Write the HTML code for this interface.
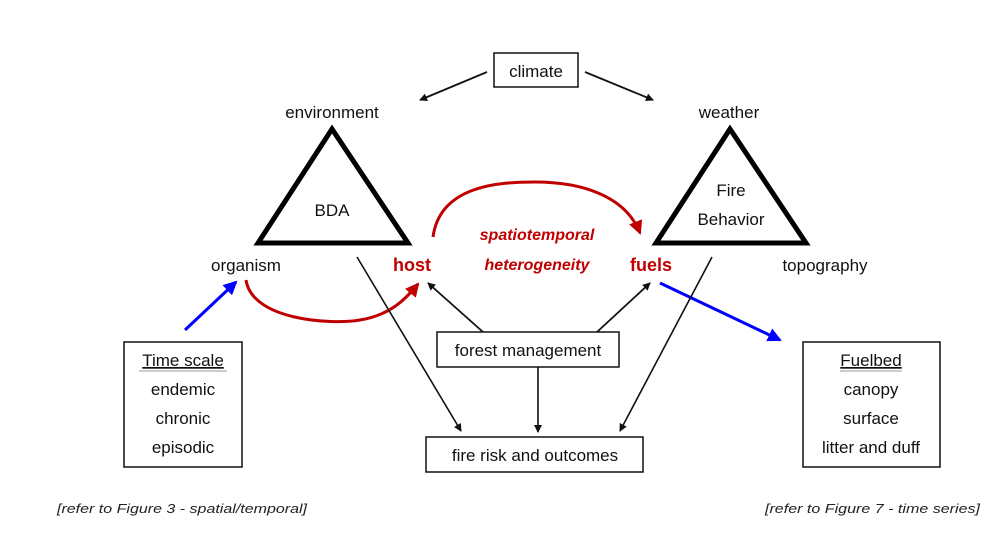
<!DOCTYPE html>
<html><head><meta charset="utf-8"><style>
html,body{margin:0;padding:0;background:#fff;}
svg{display:block;}
.a{font-family:"Liberation Sans",sans-serif;font-size:17px;fill:#111;}
.c{font-family:"Liberation Sans Narrow","Liberation Sans",sans-serif;font-size:17px;fill:#111;}
</style></head><body>
<svg width="1000" height="550" viewBox="0 0 1000 550" xmlns="http://www.w3.org/2000/svg">
<defs>
<marker id="k" markerWidth="8" markerHeight="8" refX="7" refY="4" orient="auto" markerUnits="userSpaceOnUse"><path d="M0,0 L8,4 L0,8 Z" fill="#111"/></marker>
<marker id="r" markerWidth="14" markerHeight="14" refX="12" refY="7" orient="auto" markerUnits="userSpaceOnUse"><path d="M0,0 L14,7 L0,14 Z" fill="#c00000"/></marker>
<marker id="b" markerWidth="14" markerHeight="14" refX="12" refY="7" orient="auto" markerUnits="userSpaceOnUse"><path d="M0,0 L14,7 L0,14 Z" fill="#0000ff"/></marker>
</defs>
<rect x="494" y="53" width="84" height="34" fill="#fff" stroke="#111" stroke-width="1.5"/>
<text x="536" y="77" class="c" text-anchor="middle">climate</text>
<line x1="487" y1="72" x2="420" y2="100" stroke="#111" stroke-width="1.8" marker-end="url(#k)"/>
<line x1="585" y1="72" x2="653" y2="100" stroke="#111" stroke-width="1.8" marker-end="url(#k)"/>
<text x="332" y="118" class="a" text-anchor="middle">environment</text>
<text x="729" y="118" class="a" text-anchor="middle">weather</text>
<polygon points="332,129 258,243 408,243" fill="none" stroke="#000" stroke-width="5"/>
<text x="332" y="216" class="a" font-size="18" text-anchor="middle">BDA</text>
<polygon points="730,129 656,243 806,243" fill="none" stroke="#000" stroke-width="5"/>
<text x="731" y="196" class="a" font-size="18" text-anchor="middle">Fire</text>
<text x="731" y="225" class="a" font-size="18" text-anchor="middle">Behavior</text>
<text x="246" y="271" class="a" text-anchor="middle">organism</text>
<text x="412" y="271" font-family="Liberation Sans,sans-serif" font-size="18" font-weight="bold" fill="#c00000" text-anchor="middle">host</text>
<text x="651" y="271" font-family="Liberation Sans,sans-serif" font-size="18" font-weight="bold" fill="#c00000" text-anchor="middle">fuels</text>
<text x="825" y="271" class="a" text-anchor="middle">topography</text>
<text x="537" y="240" font-family="Liberation Sans,sans-serif" font-size="16" font-weight="bold" font-style="italic" fill="#c00000" text-anchor="middle">spatiotemporal</text>
<text x="537" y="270" font-family="Liberation Sans,sans-serif" font-size="16" font-weight="bold" font-style="italic" fill="#c00000" text-anchor="middle">heterogeneity</text>
<path d="M433,237 C440,185 500,182 535,182 C580,182 625,195 640,233" fill="none" stroke="#c00000" stroke-width="3" marker-end="url(#r)"/>
<path d="M246,280 C252,320 330,325 360,320 C390,315 405,300 418,284" fill="none" stroke="#c00000" stroke-width="3" marker-end="url(#r)"/>
<line x1="185" y1="330" x2="236" y2="282" stroke="#0000ff" stroke-width="3" marker-end="url(#b)"/>
<line x1="660" y1="283" x2="780" y2="340" stroke="#0000ff" stroke-width="3" marker-end="url(#b)"/>
<line x1="357" y1="257" x2="461" y2="431" stroke="#111" stroke-width="1.6" marker-end="url(#k)"/>
<line x1="712" y1="257" x2="620" y2="431" stroke="#111" stroke-width="1.6" marker-end="url(#k)"/>
<line x1="483" y1="332" x2="428" y2="283" stroke="#111" stroke-width="1.8" marker-end="url(#k)"/>
<line x1="597" y1="332" x2="650" y2="283" stroke="#111" stroke-width="1.8" marker-end="url(#k)"/>
<line x1="538" y1="367" x2="538" y2="432" stroke="#111" stroke-width="1.6" marker-end="url(#k)"/>
<rect x="437" y="332" width="182" height="35" fill="#fff" stroke="#111" stroke-width="1.5"/>
<text x="528" y="356" class="c" text-anchor="middle">forest management</text>
<rect x="426" y="437" width="217" height="35" fill="#fff" stroke="#111" stroke-width="1.5"/>
<text x="535" y="461" class="c" text-anchor="middle">fire risk and outcomes</text>
<rect x="124" y="342" width="118" height="125" fill="#fff" stroke="#111" stroke-width="1.5"/>
<text x="183" y="366" class="c" text-anchor="middle" text-decoration="underline">Time scale</text>
<line x1="139" y1="371" x2="227" y2="371" stroke="#999" stroke-width="1"/>
<text x="183" y="395" class="c" text-anchor="middle">endemic</text>
<text x="183" y="424" class="c" text-anchor="middle">chronic</text>
<text x="183" y="453" class="c" text-anchor="middle">episodic</text>
<rect x="803" y="342" width="137" height="125" fill="#fff" stroke="#111" stroke-width="1.5"/>
<text x="871" y="366" class="c" text-anchor="middle" text-decoration="underline">Fuelbed</text>
<line x1="840" y1="371" x2="902" y2="371" stroke="#999" stroke-width="1"/>
<text x="871" y="395" class="c" text-anchor="middle">canopy</text>
<text x="871" y="424" class="c" text-anchor="middle">surface</text>
<text x="871" y="453" class="c" text-anchor="middle">litter and duff</text>
<text x="57" y="513" font-family="Liberation Sans,sans-serif" font-size="13" font-style="italic" fill="#222" textLength="250" lengthAdjust="spacingAndGlyphs">[refer to Figure 3 - spatial/temporal]</text>
<text x="765" y="513" font-family="Liberation Sans,sans-serif" font-size="13" font-style="italic" fill="#222" textLength="215" lengthAdjust="spacingAndGlyphs">[refer to Figure 7 - time series]</text>
</svg>
</body></html>
